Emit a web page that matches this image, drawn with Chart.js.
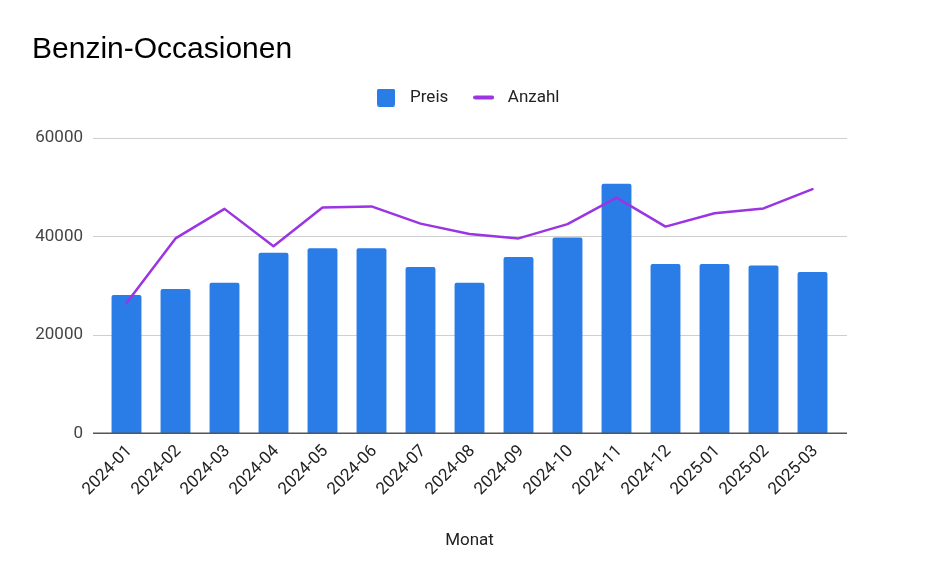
<!DOCTYPE html>
<html>
<head>
<meta charset="utf-8">
<script src="https://cdn.jsdelivr.net/npm/chart.js@4.4.1/dist/chart.umd.min.js"></script>
<style>
  html, body { margin: 0; padding: 0; background: #fff; }
  #wrap { width: 940px; height: 581px; position: relative; }
</style>
</head>
<body>
<div id="wrap"><canvas id="c" width="940" height="581"></canvas></div>
<script>
const categories = ['2024-01','2024-02','2024-03','2024-04','2024-05','2024-06','2024-07','2024-08','2024-09','2024-10','2024-11','2024-12','2025-01','2025-02','2025-03'];
const preis  = [28100, 29300, 30600, 36700, 37600, 37600, 33800, 30600, 35800, 39800, 50700, 34400, 34400, 34100, 32800];
const anzahl = [26500, 39600, 45600, 38000, 45900, 46100, 42600, 40500, 39600, 42500, 47900, 42000, 44700, 45700, 49600];
const yTicks = [0, 20000, 40000, 60000];

const BAR_COLOR = '#2a7de6';
const LINE_COLOR = '#9b34e3';

function makeBoxImg() {
  const c = document.createElement('canvas'); c.width = 18; c.height = 18;
  const g = c.getContext('2d'); g.fillStyle = BAR_COLOR;
  g.beginPath(); g.roundRect(0, 0, 18, 18, 2); g.fill(); return c;
}
function makeLineImg() {
  const c = document.createElement('canvas'); c.width = 21; c.height = 5;
  const g = c.getContext('2d'); g.fillStyle = LINE_COLOR;
  g.beginPath(); g.roundRect(0, 0.5, 21, 4, 2); g.fill(); return c;
}
const boxImg = makeBoxImg();
const lineImg = makeLineImg();

const spacer = {
  id: 'spacer',
  beforeInit(chart) {
    const box = {
      position: 'top', weight: 1, fullSize: true, options: {},
      left: 0, top: 0, right: 0, bottom: 0, width: 0, height: 0,
      isHorizontal() { return true; },
      update(maxWidth) { this.width = maxWidth; this.height = 22; },
      draw() {},
      getPadding() { return {left: 0, right: 0, top: 0, bottom: 0}; }
    };
    Chart.layouts.addBox(chart, box);
  }
};

const grid = {
  id: 'customGrid',
  beforeDatasetsDraw(chart) {
    const {ctx, chartArea} = chart;
    const y = chart.scales.y;
    ctx.save();
    ctx.strokeStyle = '#cfcfcf';
    ctx.lineWidth = 1;
    y.ticks.forEach(t => {
      if (t.value === 0) return;
      const py = Math.round(y.getPixelForValue(t.value)) + 0.5;
      ctx.beginPath();
      ctx.moveTo(chartArea.left - 9, py);
      ctx.lineTo(chartArea.right + 10, py);
      ctx.stroke();
    });
    ctx.restore();
  },
  afterDatasetsDraw(chart) {
    const {ctx, chartArea} = chart;
    const y = chart.scales.y;
    const py = y.getPixelForValue(0);
    ctx.save();
    ctx.strokeStyle = '#555';
    ctx.lineWidth = 1.5;
    ctx.beginPath();
    ctx.moveTo(chartArea.left - 9, py);
    ctx.lineTo(chartArea.right + 10, py);
    ctx.stroke();
    ctx.restore();
  }
};

new Chart(document.getElementById('c'), {
  data: {
    labels: categories,
    datasets: [
      {
        type: 'bar', label: 'Preis', data: preis,
        backgroundColor: BAR_COLOR, borderWidth: 0,
        borderRadius: {topLeft: 2, topRight: 2, bottomLeft: 0, bottomRight: 0},
        borderSkipped: 'start',
        categoryPercentage: 1, barPercentage: 0.61, order: 1
      },
      {
        type: 'line', label: 'Anzahl', data: anzahl,
        borderColor: LINE_COLOR, backgroundColor: LINE_COLOR, borderWidth: 2.5,
        pointRadius: 0, pointHoverRadius: 0, tension: 0, order: 0,
        borderJoinStyle: 'round', borderCapStyle: 'round'
      }
    ]
  },
  options: {
    responsive: false,
    animation: false,
    layout: { padding: { left: 32, right: 42, top: 0, bottom: 30 } },
    plugins: {
      tooltip: { enabled: false },
      title: {
        display: true, text: 'Benzin-Occasionen', align: 'start', color: '#000',
        font: { family: '"Liberation Sans", Arial, sans-serif', size: 30, weight: 'normal' },
        padding: { top: 32, bottom: 1 }
      },
      legend: {
        display: true, position: 'top', align: 'center',
        labels: {
          usePointStyle: true, pointStyleWidth: 31, padding: 20, color: '#222',
          font: { family: 'Roboto, sans-serif', size: 17 },
          sort: (a, b) => a.datasetIndex - b.datasetIndex,
          generateLabels(chart) {
            const items = Chart.defaults.plugins.legend.labels.generateLabels(chart);
            items.forEach(it => { it.pointStyle = it.datasetIndex === 0 ? boxImg : lineImg; });
            return items;
          }
        }
      }
    },
    scales: {
      x: {
        type: 'category', offset: true,
        grid: { display: false, drawTicks: false }, border: { display: false },
        ticks: {
          color: '#222', autoSkip: false, maxRotation: 45, minRotation: 45, padding: 8, labelOffset: 3,
          font: { family: 'Roboto, sans-serif', size: 17 }
        },
        title: {
          display: true, text: 'Monat', color: '#222',
          font: { family: 'Roboto, sans-serif', size: 17 },
          padding: { top: 23, bottom: 0 }
        }
      },
      y: {
        type: 'linear', position: 'left', min: 0, max: 60000,
        grid: { display: false, drawTicks: false }, border: { display: false },
        afterBuildTicks(s) { s.ticks = yTicks.map(v => ({ value: v })); },
        afterFit(s) { s.width = 70; },
        ticks: {
          color: '#444', padding: 19, callback: v => String(v),
          font: { family: 'Roboto, sans-serif', size: 17 }
        }
      },
      y1: {
        type: 'linear', position: 'right', display: true,
        grid: { display: false, drawTicks: false }, border: { display: false },
        ticks: { display: false },
        afterFit(s) { s.width = 61; }
      }
    }
  },
  plugins: [spacer, grid]
});
</script>
</body>
</html>
